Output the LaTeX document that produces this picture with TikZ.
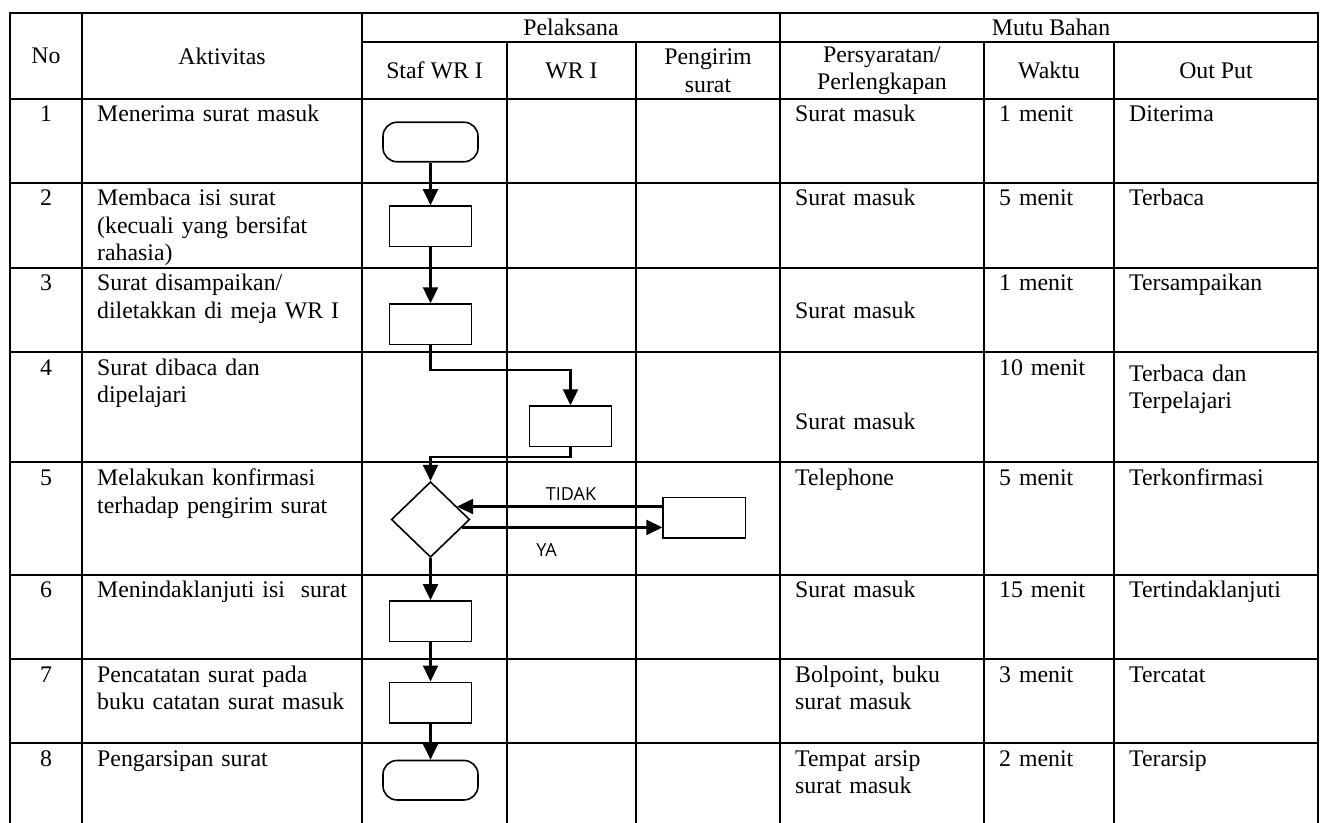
\documentclass[tikz,border=0pt]{standalone}
\usepackage{fontspec}
\setmainfont{Liberation Serif}
\newfontfamily\labelfont{Open Sans}
\usetikzlibrary{arrows.meta,shapes.geometric}
\begin{document}
\begin{tikzpicture}[x=1pt,y=-1pt,
  grid/.style={line width=2pt, line cap=rect},
  cell/.style={font=\fontsize{23.8}{27.5}\selectfont, inner sep=0pt, anchor=base west, text width=265pt, align=left},
  num/.style={font=\fontsize{23.8}{27.5}\selectfont, inner sep=0pt, anchor=base},
  head/.style={font=\fontsize{23.8}{27.5}\selectfont, inner sep=0pt, align=center},
  proc/.style={draw, line width=1.6pt, minimum width=82.3pt, minimum height=40.4pt, inner sep=0pt},
  term/.style={draw, line width=1.6pt, rounded corners=14pt, minimum width=95pt, minimum height=39.5pt, inner sep=0pt},
  dec/.style={draw, line width=1.6pt, diamond, minimum width=78.4pt, minimum height=75.6pt, inner sep=0pt},
  flow/.style={line width=2.2pt, -{Triangle[length=16pt,width=15pt]}},
  lbl/.style={font=\labelfont\fontsize{18}{20}\selectfont, inner sep=0pt}
]
\useasboundingbox (0,0) rectangle (1325,822);
\fill[white] (0,0) rectangle (1325,822);
% ---- table grid ----
\draw[grid] (10,13.3) -- (1318,13.3);
\draw[grid] (362,42.3) -- (1318,42.3);
\foreach \yy in {99,182.5,267.5,352,462.3,574.5,658.7,743}
  \draw[grid] (10,\yy) -- (1318,\yy);
\foreach \xx in {10,82,362,780,1318}
  \draw[grid] (\xx,13.3) -- (\xx,830);
\foreach \xx in {507,636,984,1114}
  \draw[grid] (\xx,42.3) -- (\xx,830);
% ---- header ----
\node[head] (hno) at (46,56) {No};
\node[head] (hakt) at (222,56) {Aktivitas};
\node[head] (hpel) at (571,27.8) {Pelaksana};
\node[head] (hmutu) at (1051,27.8) {Mutu Bahan};
\node[head] (hstaf) at (434.5,70.5) {Staf WR I};
\node[head] (hwr) at (571.5,70.5) {WR I};
\node[head] (hpeng) at (708,70.5) {Pengirim\\surat};
\node[head] (hpers) at (882,70.5) {Persyaratan/\\Perlengkapan};
\node[head] (hwak) at (1049,70.5) {Waktu};
\node[head] (hout) at (1216,70.5) {Out Put};
% ---- rows ----
\node[num] (n1) at (46,121.5) {1};
\node[cell] (a1) at (97,121.5) {Menerima surat masuk};
\node[cell] (s1) at (795,121.5) {Surat masuk};
\node[cell] (w1) at (999,121.5) {1 menit};
\node[cell] (o1) at (1129,121.5) {Diterima};
\node[num] (n2) at (46,205.5) {2};
\node[cell] (a2) at (97,205.5) {Membaca isi surat\\(kecuali yang bersifat\\rahasia)};
\node[cell] (s2) at (795,205.5) {Surat masuk};
\node[cell] (w2) at (999,205.5) {5 menit};
\node[cell] (o2) at (1129,205.5) {Terbaca};
\node[num] (n3) at (46,290.5) {3};
\node[cell] (a3) at (97,290.5) {Surat disampaikan/\\diletakkan di meja WR I};
\node[cell] (s3) at (795,318) {Surat masuk};
\node[cell] (w3) at (999,290.5) {1 menit};
\node[cell] (o3) at (1129,290.5) {Tersampaikan};
\node[num] (n4) at (46,375) {4};
\node[cell] (a4) at (97,375) {Surat dibaca dan\\dipelajari};
\node[cell] (s4) at (795,429) {Surat masuk};
\node[cell] (w4) at (999,375) {10 menit};
\node[cell] (o4) at (1129,381) {Terbaca dan\\Terpelajari};
\node[num] (n5) at (46,485.5) {5};
\node[cell] (a5) at (97,485.5) {Melakukan konfirmasi\\terhadap pengirim surat};
\node[cell] (s5) at (795,485.5) {Telephone};
\node[cell] (w5) at (999,485.5) {5 menit};
\node[cell] (o5) at (1129,485.5) {Terkonfirmasi};
\node[num] (n6) at (46,597.5) {6};
\node[cell] (a6) at (97,597.5) {Menindaklanjuti isi\ \ surat};
\node[cell] (s6) at (795,597.5) {Surat masuk};
\node[cell] (w6) at (999,597.5) {15 menit};
\node[cell] (o6) at (1129,597.5) {Tertindaklanjuti};
\node[num] (n7) at (46,682) {7};
\node[cell] (a7) at (97,682) {Pencatatan surat pada\\buku catatan surat masuk};
\node[cell] (s7) at (795,682) {Bolpoint, buku\\surat masuk};
\node[cell] (w7) at (999,682) {3 menit};
\node[cell] (o7) at (1129,682) {Tercatat};
\node[num] (n8) at (46,766) {8};
\node[cell] (a8) at (97,766) {Pengarsipan surat};
\node[cell] (s8) at (795,766) {Tempat arsip\\surat masuk};
\node[cell] (w8) at (999,766) {2 menit};
\node[cell] (o8) at (1129,766) {Terarsip};
% ---- flowchart ----
\node[term] (t1) at (430.5,142) {};
\node[proc] (p2) at (430.5,226.2) {};
\node[proc] (p3) at (430.5,324.3) {};
\node[proc] (p4) at (570.5,426.3) {};
\node[dec]  (d5) at (430.5,519.5) {};
\node[proc] (p5) at (704.3,517.5) {};
\node[proc] (p6) at (430.5,621.1) {};
\node[proc] (p7) at (430.5,702.5) {};
\node[term] (t8) at (430.5,780.2) {};
\draw[flow] (t1.south) -- (p2.north);
\draw[flow] (p2.south) -- (p3.north);
\draw[flow] (p3.south) -- ++(0,24.5) -| (p4.north);
\draw[flow] (p4.south) -- ++(0,9.3) -| (d5.north);
\path (d5.26.3) coordinate (dT);
\path (d5.-14.1) coordinate (dY);
\draw[flow] (p5.west |- dT) -- (dT);
\draw[flow] (dY) -- (dY -| p5.west);
\draw[flow] (d5.south) -- (p6.north);
\draw[flow] (p6.south) -- (p7.north);
\draw[flow] (p7.south) -- (t8.north);
\node[lbl] (ltidak) at (571,494) {TIDAK};
\node[lbl] (lya) at (546.5,550) {YA};
\end{tikzpicture}
\end{document}
